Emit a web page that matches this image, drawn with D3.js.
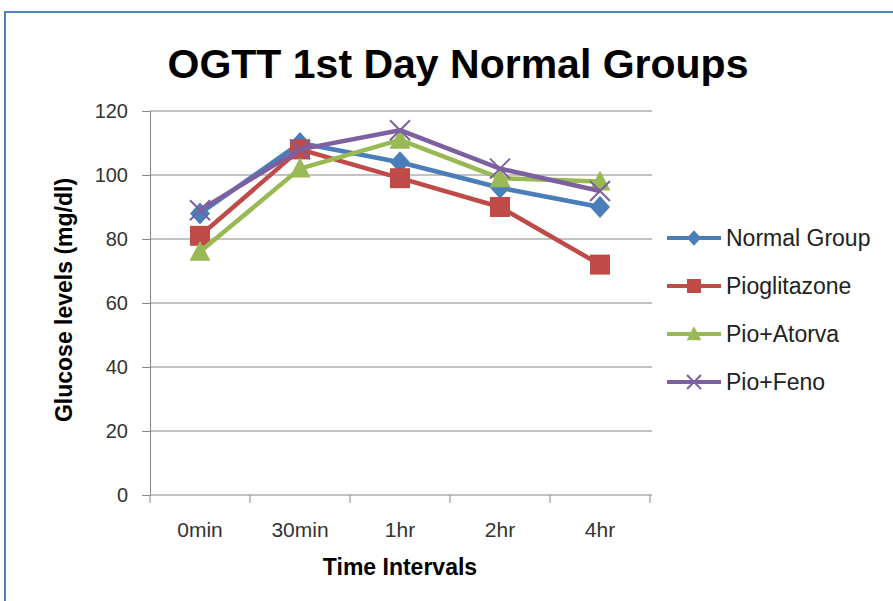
<!DOCTYPE html>
<html lang="en">
<head>
<meta charset="UTF-8">
<title>OGTT 1st Day Normal Groups</title>
<script src="https://d3js.org/d3.v7.min.js"></script>
<style>
    body { margin: 0; background: #fff; }
    svg text { font-family: 'Liberation Sans', Arial, sans-serif; fill: #000; }
    .grid line { stroke: #868686; stroke-width: 1px; }
    .axis path, .axis line { stroke: #868686; }
    .axis text { fill: #333; }
    .series-line { fill: none; stroke-width: 4.5px; stroke-linejoin: round; }
</style>
</head>
<body>
<svg width="893" height="601"></svg>
<script>
    const categories = ["0min", "30min", "1hr", "2hr", "4hr"];
    const yTicks = [0, 20, 40, 60, 80, 100, 120];

    const normalGroup = [88, 110, 104, 96, 90];
    const pioglitazone = [81, 108, 99, 90, 72];
    const pioAtorva = [76, 102, 111, 99, 98];
    const pioFeno = [89, 108, 114, 102, 95];

    const seriesNames = ["Normal Group", "Pioglitazone", "Pio+Atorva", "Pio+Feno"];
    const seriesColors = ["#4a7ebb", "#be4b48", "#98b954", "#7d60a0"];
    const seriesMarkers = ["diamond", "square", "triangle", "cross"];

    const series = [normalGroup, pioglitazone, pioAtorva, pioFeno].map((v, i) => ({
        name: seriesNames[i], values: v, color: seriesColors[i], marker: seriesMarkers[i]
    }));

    const svg = d3.select("svg");

    // outer chart border
    svg.append("path")
        .attr("d", "M5,620 L5,12 L900,12")
        .attr("fill", "none")
        .attr("stroke", "#4f81bd")
        .attr("stroke-width", 2);

    const plotLeft = 150, plotRight = 650, plotTop = 111, plotBottom = 495;

    const x = d3.scaleBand().domain(categories).range([plotLeft, plotRight]);
    const y = d3.scaleLinear().domain([0, 120]).range([plotBottom, plotTop]);

    // gridlines
    svg.append("g").attr("class", "grid")
        .selectAll("line").data(yTicks.filter(d => d > 0)).enter()
        .append("line")
        .attr("x1", plotLeft).attr("x2", plotRight + 2)
        .attr("y1", d => y(d)).attr("y2", d => y(d));

    // y axis
    const yAxis = svg.append("g").attr("class", "axis")
        .attr("transform", `translate(${plotLeft},0)`)
        .call(d3.axisLeft(y).tickValues(yTicks).tickSize(8).tickPadding(14));
    yAxis.selectAll("text").style("font-size", "20px");

    // x axis
    const xAxis = svg.append("g").attr("class", "axis")
        .attr("transform", `translate(0,${plotBottom})`)
        .call(d3.axisBottom(x).tickSize(0).tickPadding(27));
    xAxis.select(".domain").attr("d", `M${plotLeft},0H${plotRight + 2}`);
    xAxis.selectAll("text").style("font-size", "21px");
    xAxis.selectAll(".sep").data(d3.range(categories.length + 1)).enter()
        .append("line")
        .attr("stroke", "#868686")
        .attr("x1", i => plotLeft + i * x.step()).attr("x2", i => plotLeft + i * x.step())
        .attr("y1", 0).attr("y2", 8);

    // title and axis labels
    svg.append("text")
        .attr("x", 458).attr("y", 78)
        .attr("text-anchor", "middle")
        .style("font-size", "41px").style("font-weight", "bold")
        .text("OGTT 1st Day Normal Groups");

    svg.append("text")
        .attr("transform", "translate(72,300) rotate(-90)")
        .attr("text-anchor", "middle")
        .style("font-size", "23px").style("font-weight", "bold")
        .text("Glucose levels (mg/dl)");

    svg.append("text")
        .attr("x", 400).attr("y", 575)
        .attr("text-anchor", "middle")
        .style("font-size", "23px").style("font-weight", "bold")
        .text("Time Intervals");

    function drawMarker(g, s, cx, cy, scale) {
        const k = scale || 1;
        if (s.marker === "diamond") {
            g.append("path").attr("transform", `translate(${cx},${cy})`)
                .attr("d", `M0,${-11 * k}L${10 * k},0L0,${11 * k}L${-10 * k},0Z`)
                .attr("fill", s.color);
        } else if (s.marker === "square") {
            g.append("rect").attr("x", cx - 10 * k).attr("y", cy - 10 * k)
                .attr("width", 20 * k).attr("height", 20 * k).attr("fill", s.color);
        } else if (s.marker === "triangle") {
            g.append("path").attr("transform", `translate(${cx},${cy})`)
                .attr("d", `M0,${-11 * k}L${10.5 * k},${9 * k}L${-10.5 * k},${9 * k}Z`)
                .attr("fill", s.color);
        } else {
            g.append("path").attr("transform", `translate(${cx},${cy})`)
                .attr("d", `M${-10 * k},${-10 * k}L${10 * k},${10 * k}M${-10 * k},${10 * k}L${10 * k},${-10 * k}`)
                .attr("stroke", s.color).attr("stroke-width", 2).attr("fill", "none");
        }
    }

    const line = d3.line()
        .x((d, i) => x(categories[i]) + x.bandwidth() / 2)
        .y(d => y(d));

    series.forEach(s => {
        const g = svg.append("g");
        g.append("path").attr("class", "series-line")
            .attr("d", line(s.values)).attr("stroke", s.color);
        s.values.forEach((v, i) => {
            drawMarker(g, s, x(categories[i]) + x.bandwidth() / 2, y(v));
        });
    });

    // legend
    const legend = svg.append("g");
    series.forEach((s, i) => {
        const ly = 238 + i * 48;
        const g = legend.append("g");
        g.append("line").attr("x1", 667).attr("x2", 721).attr("y1", ly).attr("y2", ly)
            .attr("stroke", s.color).attr("stroke-width", 4);
        drawMarker(g, s, 694, ly, 0.7);
        g.append("text").attr("x", 726).attr("y", ly + 8)
            .style("font-size", "23px").style("fill", "#222").text(s.name);
    });
</script>
</body>
</html>
